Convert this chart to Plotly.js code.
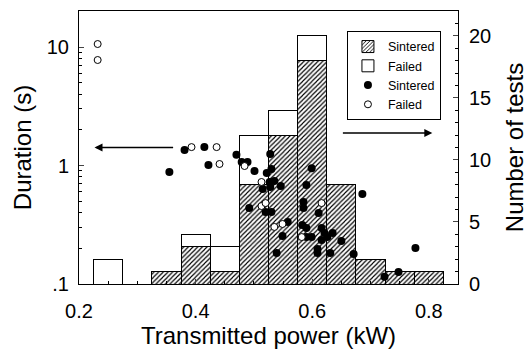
<!DOCTYPE html>
<html>
<head>
<meta charset="utf-8">
<script src="https://cdn.plot.ly/plotly-3.0.1.min.js"></script>
<style>html,body{margin:0;padding:0;background:#fff;}#chart{width:528px;height:354px;}</style>
</head>
<body>
<div id="chart"></div>
<script>
// Histogram (number of tests per power bin)
const binCenters = [0.25, 0.30, 0.35, 0.40, 0.45, 0.50, 0.55, 0.60, 0.65, 0.70, 0.75, 0.80];
const sinteredCount = [0, 0, 1, 3, 1, 8, 12, 18, 8, 2, 1, 1];
const failedCount = [2, 0, 0, 1, 2, 4, 2, 2, 0, 0, 0, 0];

// Individual tests: transmitted power (kW) and duration (s)
const sinteredPower = [0.355, 0.381, 0.415, 0.422, 0.470, 0.479, 0.489, 0.501, 0.522, 0.530, 0.528, 0.527, 0.535, 0.515, 0.528, 0.546, 0.492, 0.520, 0.530, 0.558, 0.549, 0.539, 0.590, 0.585, 0.585, 0.583, 0.590, 0.590, 0.599, 0.611, 0.616, 0.621, 0.626, 0.635, 0.609, 0.609, 0.631, 0.650, 0.671, 0.686, 0.777, 0.724, 0.748, 0.616, 0.599];
const sinteredDuration = [0.881, 1.35, 1.43, 1.01, 1.23, 1.07, 1.07, 0.899, 0.864, 0.935, 1.25, 0.726, 0.740, 0.633, 0.659, 0.671, 0.438, 0.405, 0.405, 0.334, 0.254, 0.183, 0.685, 0.492, 0.438, 0.315, 0.297, 0.249, 0.95, 0.397, 0.297, 0.269, 0.249, 0.269, 0.197, 0.183, 0.183, 0.231, 0.179, 0.575, 0.201, 0.115, 0.126, 0.235, 0.249];
const failedPower = [0.232, 0.232, 0.393, 0.436, 0.441, 0.484, 0.513, 0.513, 0.520, 0.535, 0.549, 0.582, 0.616];
const failedDuration = [10.6, 7.77, 1.43, 1.43, 1.03, 0.99, 0.726, 0.455, 0.482, 0.303, 0.321, 0.249, 0.482];

const xTicks = [0.2, 0.4, 0.6, 0.8];
const xTickText = ['0.2', '0.4', '0.6', '0.8'];
const durTicks = [0.1, 1, 10];
const durTickText = ['.1', '1', '10'];
const durMinor = [0.2,0.3,0.4,0.5,0.6,0.7,0.8,0.9,2,3,4,5,6,7,8,9,20];
const countTicks = [0, 5, 10, 15, 20];

const FONT = 'Liberation Sans, Arial, sans-serif';

const traces = [
  {type: 'bar', x: binCenters, y: sinteredCount, width: 0.05, name: 'Sintered',
   marker: {color: 'white', line: {color: 'black', width: 1},
            pattern: {shape: '/', size: 3.3, solidity: 0.35, fgcolor: 'black', bgcolor: 'white'}},
   xaxis: 'x', yaxis: 'y'},
  {type: 'bar', x: binCenters, y: failedCount, width: 0.05, name: 'Failed',
   marker: {color: 'white', line: {color: 'black', width: 1}},
   xaxis: 'x', yaxis: 'y'},
  {type: 'scatter', mode: 'markers', x: sinteredPower, y: sinteredDuration, name: 'Sintered',
   marker: {color: 'black', size: 8, symbol: 'circle'}, xaxis: 'x', yaxis: 'y2'},
  {type: 'scatter', mode: 'markers', x: failedPower, y: failedDuration, name: 'Failed',
   marker: {color: 'white', size: 7, symbol: 'circle', line: {color: 'black', width: 1}}, xaxis: 'x', yaxis: 'y2'}
];

const layout = {
  width: 528, height: 354,
  margin: {l: 79, r: 70, t: 11, b: 70},
  paper_bgcolor: 'white', plot_bgcolor: 'white',
  font: {family: FONT, color: 'black'},
  barmode: 'stack', bargap: 0,
  showlegend: true,
  legend: {x: 0.707, y: 0.927, xanchor: 'left', yanchor: 'top', traceorder: 'normal',
           bordercolor: 'black', borderwidth: 1, bgcolor: 'white', font: {size: 12.5, family: FONT},
           itemwidth: 30},
  xaxis: {range: [0.2, 0.85], tickvals: xTicks, ticktext: xTickText,
          ticks: 'inside', ticklen: 5, showline: true, linecolor: 'black', linewidth: 1, mirror: true,
          showgrid: false, zeroline: false, tickfont: {size: 20}, ticklabelstandoff: 9,
          minor: {tickvals: [0.25,0.3,0.35,0.45,0.5,0.55,0.65,0.7,0.75,0.85], ticks: 'inside', ticklen: 3, tickcolor: 'black'},
          title: {text: 'Transmitted power (kW)', font: {size: 24}, standoff: 6}},
  yaxis: {range: [0, 22], side: 'right', tickvals: countTicks, ticks: 'inside', ticklen: 5,
          showline: true, linecolor: 'black', linewidth: 1, showgrid: false, zeroline: false,
          tickfont: {size: 20}, ticklabelstandoff: 6,
          minor: {dtick: 1, ticks: 'inside', ticklen: 3, tickcolor: 'black'},
          title: {text: 'Number of tests', font: {size: 24}, standoff: 20}},
  yaxis2: {type: 'log', range: [-1, 1.304], side: 'left', overlaying: 'y',
           tickvals: durTicks, ticktext: durTickText, ticks: 'inside', ticklen: 5,
           showline: true, linecolor: 'black', linewidth: 1, showgrid: false, zeroline: false,
           tickfont: {size: 20}, ticklabelstandoff: 5,
           minor: {tickvals: durMinor, ticks: 'inside', ticklen: 3, tickcolor: 'black'},
           title: {text: 'Duration (s)', font: {size: 24}, standoff: 8}},
  annotations: [
    {x: 0.2266, y: 0.5, xref: 'x', yref: 'paper', ax: 0.364, ay: 0, axref: 'x', ayref: 'pixel',
     showarrow: true, arrowhead: 2, arrowsize: 1, arrowwidth: 1.6, arrowcolor: 'black', text: ''},
    {x: 0.806, y: 0.553, xref: 'x', yref: 'paper', ax: 0.650, ay: 0, axref: 'x', ayref: 'pixel',
     showarrow: true, arrowhead: 2, arrowsize: 1, arrowwidth: 1.6, arrowcolor: 'black', text: ''}
  ]
};

Plotly.newPlot('chart', traces, layout, {staticPlot: true, displayModeBar: false});
</script>
</body>
</html>
